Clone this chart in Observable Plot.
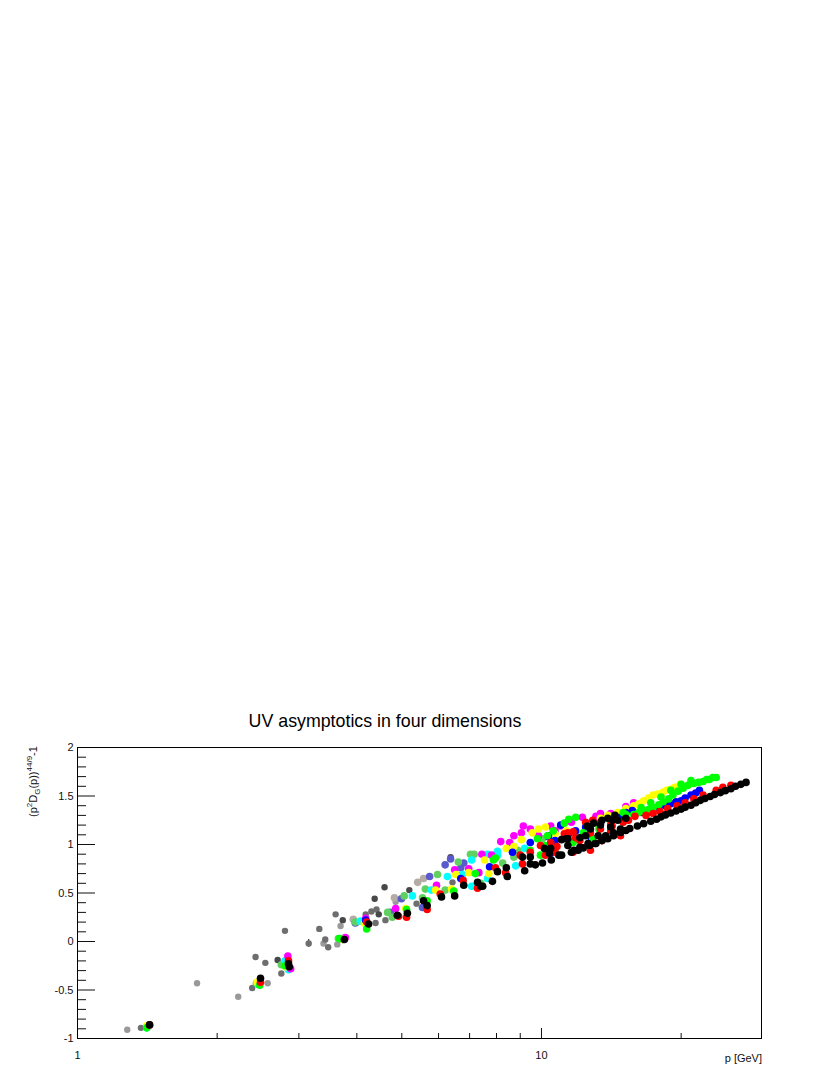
<!DOCTYPE html>
<html><head><meta charset="utf-8">
<script src="https://cdn.jsdelivr.net/npm/d3@7"></script>
<script src="https://cdn.jsdelivr.net/npm/@observablehq/plot@0.6"></script>
<style>
html,body{margin:0;padding:0;background:#fff;font-family:"Liberation Sans",sans-serif;}
#page{position:relative;width:830px;height:1075px;overflow:hidden;}
#title{position:absolute;left:0;top:711px;width:770px;text-align:center;font-size:17.8px;color:#000;}
#plot{position:absolute;left:0;top:740px;}
#ylab{position:absolute;left:33px;top:747px;font-size:11px;color:#111;white-space:nowrap;transform-origin:0 0;transform:rotate(-90deg) translateX(-70px) translateY(-6px);}
#ylab sup,#ylab sub{font-size:8px;line-height:0;}
#xlab{position:absolute;right:68px;top:1052px;font-size:11px;color:#111;}
</style></head><body>
<div id="page"><div id="title">UV asymptotics in four dimensions</div><div id="plot"></div>
<div id="ylab">(p<sup>2</sup>D<sub>G</sub>(p))<sup>44/9</sup>-1</div><div id="xlab">p [GeV]</div></div>
<script>
const xMajor=[1,10];
const xMinor=[2,3,4,5,6,7,8,9,20];
const yMajor=[-1,-0.5,0,0.5,1,1.5,2];
const yMinor=[-0.9,-0.8,-0.7,-0.6,-0.4,-0.3,-0.2,-0.1,0.1,0.2,0.3,0.4,0.6,0.7,0.8,0.9,1.1,1.2,1.3,1.4,1.6,1.7,1.8,1.9];
const lightGray=[[1.28,-.91],[1.81,-.43],[2.22,-.57],[2.57,-.43],[3.39,-.02],[3.63,-.03],[3.69,.16],[4.85,.41]];
const midGray=[[1.37,-.89],[2.38,-.48],[2.42,-.16],[2.54,-.22],[2.75,-.33],[2.80,.11],[3.15,-.02],[3.32,.13],[3.42,.02],[3.47,-.06],[3.60,.28],[4.18,.28],[4.30,.31],[4.41,.33],[4.39,.19],[4.61,.22],[5.38,.39],[6.43,.61]];
const darkGray=[[2.70,-.19],[3.73,.22],[4.46,.28],[4.37,.44],[4.59,.56],[5.19,.53],[6.37,.87]];
const tan=[[3.93,.23],[4.82,.45],[5.41,.61],[5.57,.65]];
const slate=[[1.41,-.88],[2.82,-.26],[3.73,.02],[3.97,.19],[4.72,.30],[4.99,.44],[5.54,.35],[5.74,.67],[6.2,.79],[6.37,.85],[6.7,.76],[6.8,.81]];
const medGreen=[[1.41,-.88],[2.43,-.43],[2.75,-.24],[3.65,.03],[3.97,.20],[4.66,.30],[4.77,.25],[5.06,.47],[5.54,.45],[5.62,.54],[5.97,.69],[6.2,.53],[6.62,.82],[7.03,.90],[7.16,.90],[7.4,.60],[8.25,.81],[8.72,.87],[8.89,.94],[10.05,1.06]];
const cyan=[[1.41,-.89],[2.45,-.44],[2.8,-.20],[2.85,-.29],[3.71,.03],[4.07,.21],[5.27,.47],[5.79,.53],[6.27,.67],[6.75,.69],[7.07,.84],[7.07,.57],[7.65,.90],[7.65,.65],[8.04,.93],[8.04,.89],[8.8,.78],[9.2,.96]];
const magenta=[[2.84,-.15],[2.88,-.28],[3.78,.04],[4.18,.24],[4.85,.34],[5.94,.58],[6.5,.74],[6.97,.75],[7.33,.71],[7.44,.90],[7.81,.89],[8.17,1.03],[8.54,1.02],[8.72,1.09],[9.05,1.12],[9.14,1.19],[9.46,1.16],[9.85,1.09],[10.47,1.19],[10.7,1.14],[11,1.19],[11.6,1.23],[12.25,1.28],[13.1,1.29],[13.4,1.32],[14.1,1.32],[15.2,1.39],[15.8,1.43]];
const yellow=[[1.41,-.87],[2.44,-.42],[2.81,-.26],[3.73,.02],[4.15,.19],[5.1,.34],[5.91,.53],[6.4,.54],[6.54,.69],[6.97,.71],[7.54,.84],[7.7,.70],[8.4,.96],[8.72,.98],[9.05,1.05],[9.55,1.12],[9.85,1.16],[10.2,1.18],[10.7,1.11],[11.3,1.14],[11.7,1.06],[13.4,1.27],[13.9,1.30],[14.6,1.33],[15.2,1.37],[15.8,1.40],[16.2,1.42],[16.6,1.45],[17,1.48],[17.4,1.51],[17.8,1.52],[18.3,1.54],[18.6,1.56],[19,1.57],[19.4,1.59],[19.9,1.62]];
const blue=[[4.18,.22],[6.7,.65],[7.73,.77],[8.66,.92],[9.46,1.02],[10.35,1.09],[10.35,1.08],[10.47,.91],[10.7,1.04],[11,1.2],[11.45,1.11],[11.85,1.14],[12.45,1.18],[12.8,1.07],[13.4,1.22],[14.2,1.25],[14.8,1.28],[15.2,1.33],[15.7,1.35],[16.4,1.33],[16.9,1.33],[17.4,1.35],[17.9,1.37],[18.5,1.40],[19,1.42],[19.5,1.44],[20,1.45],[20.4,1.48],[21,1.51],[21.5,1.53],[21.9,1.56]];
const green=[[1.41,-.89],[2.47,-.45],[2.8,-.25],[3.67,.03],[4.2,.13],[5.12,.33],[5.67,.42],[6.47,.52],[7.2,.70],[7.88,.84],[7.96,.86],[9.46,.94],[9.8,1.06],[9.95,.89],[10.2,.99],[10.3,1.09],[10.6,1.14],[10.7,.96],[11.2,1.22],[11.45,1.26],[11.7,1.02],[11.85,1.28],[12.3,1.12],[12.9,1.06],[13.3,1.16],[14.1,1.23],[14.4,1.27],[15,1.33],[15.2,1.31],[15.8,1.31],[16.2,1.33],[16.4,1.38],[16.6,1.34],[17,1.36],[17.2,1.43],[17.4,1.38],[17.9,1.41],[18.1,1.49],[18.3,1.44],[18.8,1.47],[19,1.56],[19.2,1.51],[19.7,1.55],[20,1.62],[20.2,1.58],[20.7,1.61],[21,1.66],[21.3,1.63],[21.8,1.64],[22.3,1.65],[22.7,1.67],[23,1.67],[23.4,1.69],[23.8,1.69]];
const red=[[1.43,-.86],[2.48,-.42],[2.85,-.20],[4.2,.20],[4.92,.26],[5.12,.25],[5.67,.33],[6.05,.49],[6.78,.63],[7.28,.55],[7.96,.76],[8.37,.71],[9,.89],[9.1,.80],[9.46,.92],[9.95,.99],[10.2,.89],[10.47,1.02],[10.7,.92],[10.8,.98],[11.2,1.11],[11.4,1.12],[11.7,1.13],[11.7,.92],[11.85,1.07],[12.1,1.04],[12.45,1.23],[12.75,1.12],[12.75,.94],[12.9,1.25],[13.4,1.16],[13.4,1.23],[13.5,1.04],[14.1,1.20],[14.1,1.14],[14.2,1.19],[14.8,1.09],[15,1.23],[15.4,1.25],[15.9,1.29],[16.8,1.30],[17.4,1.32],[18,1.34],[18.7,1.37],[19.6,1.40],[20.4,1.43],[21.3,1.47],[22.3,1.51],[23.8,1.56],[24.6,1.59],[25.6,1.61]];
const black=[[1.43,-.86],[2.48,-.38],[2.85,-.23],[2.86,-.26],[3.76,.02],[4.24,.18],[4.89,.27],[5.14,.29],[5.57,.42],[5.67,.37],[6.09,.46],[6.5,.47],[6.8,.58],[7.28,.61],[7.4,.57],[7.47,.57],[7.84,.62],[8.04,.72],[8.4,.76],[8.44,.67],[9.1,.87],[9.2,.73],[9.46,.87],[9.46,.80],[9.7,.79],[10.05,.81],[10.15,.96],[10.4,.91],[10.47,.96],[10.5,.84],[10.9,.89],[11.05,.89],[11.05,1.05],[11.3,1.06],[11.4,1.06],[11.4,.99],[11.6,.92],[11.75,.94],[12,.94],[12.1,.97],[12.1,1.07],[12.3,.965],[12.45,1.09],[12.55,1.19],[12.6,1.01],[12.7,.99],[12.75,1.16],[12.95,1.22],[13.05,1.01],[13.1,1.01],[13.25,1.09],[13.4,1.20],[13.5,1.25],[13.5,1.04],[13.75,1.09],[13.9,1.27],[13.9,1.06],[14.1,1.18],[14.2,1.25],[14.3,1.12],[14.3,1.09],[14.4,1.30],[14.6,1.25],[14.8,1.16],[14.8,1.125],[15.2,1.27],[15.2,1.145],[15.5,1.165],[16.1,1.19],[16.6,1.215],[17.2,1.24],[17.7,1.26],[18.1,1.285],[18.5,1.305],[19,1.325],[19.5,1.345],[20,1.365],[20.4,1.385],[21,1.405],[21.5,1.43],[22,1.455],[22.5,1.475],[23.1,1.495],[23.6,1.515],[24.3,1.535],[24.9,1.555],[25.6,1.575],[26.2,1.60],[26.9,1.62],[27.6,1.64]];
const errorBar=[[3.15,-.06,.02]];

const dots=(rows,fill,r=3.8)=>Plot.dot(rows,{x:d=>d[0],y:d=>d[1],r,fill,stroke:"none"});
const chart=Plot.plot({
  width:830,height:335,marginLeft:77,marginRight:69,marginTop:7,marginBottom:37,
  style:{background:"#fff",fontFamily:"'Liberation Sans',sans-serif",fontSize:"11px",color:"#111"},
  x:{type:"log",domain:[1,29.8]},
  y:{domain:[-1,2]},
  marks:[
    Plot.axisY({ticks:yMajor,tickSize:-18,tickPadding:22,tickFormat:d=>String(d),label:null,stroke:"#111",strokeWidth:1,strokeOpacity:1}),
    Plot.axisY({ticks:yMinor,tickSize:-9,tickFormat:()=>"",label:null,stroke:"#111",strokeOpacity:1}),
    Plot.axisX({ticks:xMajor,tickSize:-10,tickPadding:23,tickFormat:d=>String(d),label:null,stroke:"#111",strokeOpacity:1}),
    Plot.axisX({ticks:xMinor,tickSize:-5,tickFormat:()=>"",label:null,stroke:"#111",strokeOpacity:1}),
    Plot.ruleX(errorBar,{x:d=>d[0],y1:d=>d[1],y2:d=>d[2],stroke:"#000"}),
    dots(lightGray,"#999",3.2),dots(midGray,"#6e6e6e",3.2),dots(darkGray,"#484848",3.2),
    dots(tan,"#b5aca5"),dots(slate,"#5a5acd"),dots(medGreen,"#60d060"),dots(cyan,"#00ffff"),
    dots(magenta,"#ff00ff"),dots(yellow,"#ffff00"),dots(blue,"#0000ff"),dots(green,"#00ff00"),
    dots(red,"#ff0000"),dots(black,"#000"),
    Plot.frame({stroke:"#000",strokeWidth:1})
  ]
});
document.getElementById("plot").appendChild(chart);
</script></body></html>
